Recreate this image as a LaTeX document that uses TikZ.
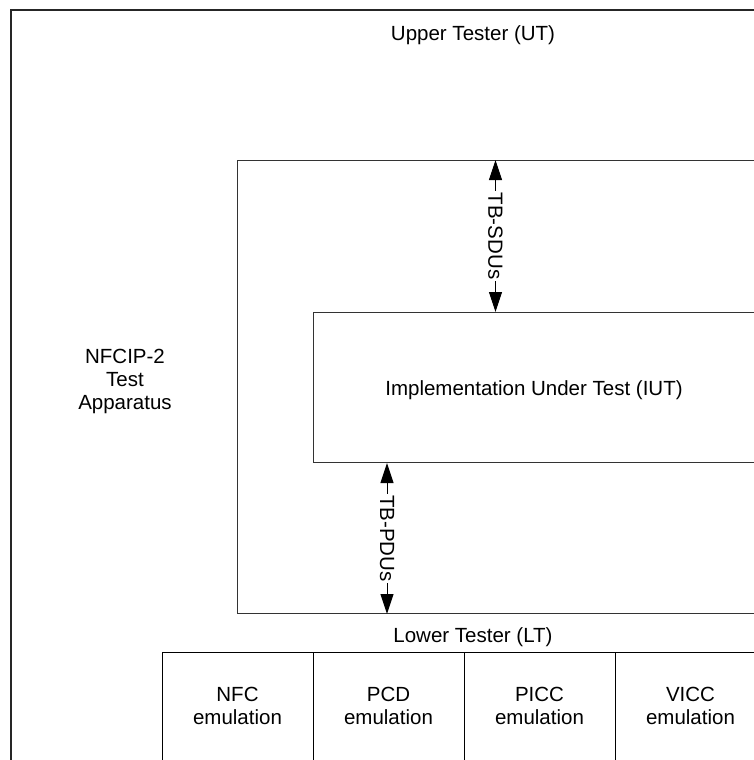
\documentclass[tikz,border=0pt]{standalone}
\usepackage{fontspec}
\setmainfont{Liberation Sans}
\usetikzlibrary{arrows.meta}
\begin{document}
\begin{tikzpicture}[x=1pt,y=-1pt,
  every node/.style={font=\fontsize{20.5}{23}\selectfont},
  outerbox/.style={draw=black!85,line width=1.8pt,rectangle,anchor=north west,inner sep=0pt},
  innerbox/.style={draw=black!80,line width=1pt,rectangle,anchor=north west,inner sep=0pt},
  emubox/.style={draw=black,line width=1pt,rectangle,anchor=north west,inner sep=0pt,minimum width=151pt,minimum height=112pt},
  lbl/.style={inner sep=0pt},
  arr/.style={{Triangle[length=20pt,width=13pt]}-{Triangle[length=20pt,width=13pt]},line width=1pt,black},
  arrlbl/.style={fill=white,inner sep=1.5pt,rotate=-90}]
\useasboundingbox (0,0) rectangle (754,760);
\clip (0,0) rectangle (754,760);
\fill[white] (0,0) rectangle (754,760);
% boxes
\node[outerbox,minimum width=800pt,minimum height=800pt] (outer) at (10,9) {};
\node[innerbox,minimum width=600pt,minimum height=453pt] (app) at (237,160) {};
\node[innerbox,minimum width=520pt,minimum height=150pt] (iut) at (313,312) {};
\node[emubox] (nfc) at (162,652) {};
\node[emubox] (pcd) at (313,652) {};
\node[emubox] (picc) at (464,652) {};
\node[emubox] (vicc) at (615,652) {};
% texts
\node[lbl,anchor=base] (ut) at (473,41) {Upper Tester (UT)};
\node[lbl,align=center] (apptxt) at (125,381) {NFCIP-2\\Test\\Apparatus};
\node[lbl,anchor=base] (iuttxt) at (534,395) {Implementation Under Test (IUT)};
\node[lbl,anchor=base] (lt) at (473,642) {Lower Tester (LT)};
\node[lbl,align=center] (nfctxt) at (237.5,706) {NFC\\emulation};
\node[lbl,align=center] (pcdtxt) at (388.5,706) {PCD\\emulation};
\node[lbl,align=center] (picctxt) at (539.5,706) {PICC\\emulation};
\node[lbl,align=center] (vicctxt) at (690.5,706) {VICC\\emulation};
% connectors
\coordinate (sdux) at (495.5,0);
\coordinate (pdux) at (387,0);
\draw[arr] (app.north west -| sdux) -- node[arrlbl] {TB-SDUs} (iut.north west -| sdux);
\draw[arr] (iut.south west -| pdux) -- node[arrlbl] {TB-PDUs} (app.south west -| pdux);
\end{tikzpicture}
\end{document}
